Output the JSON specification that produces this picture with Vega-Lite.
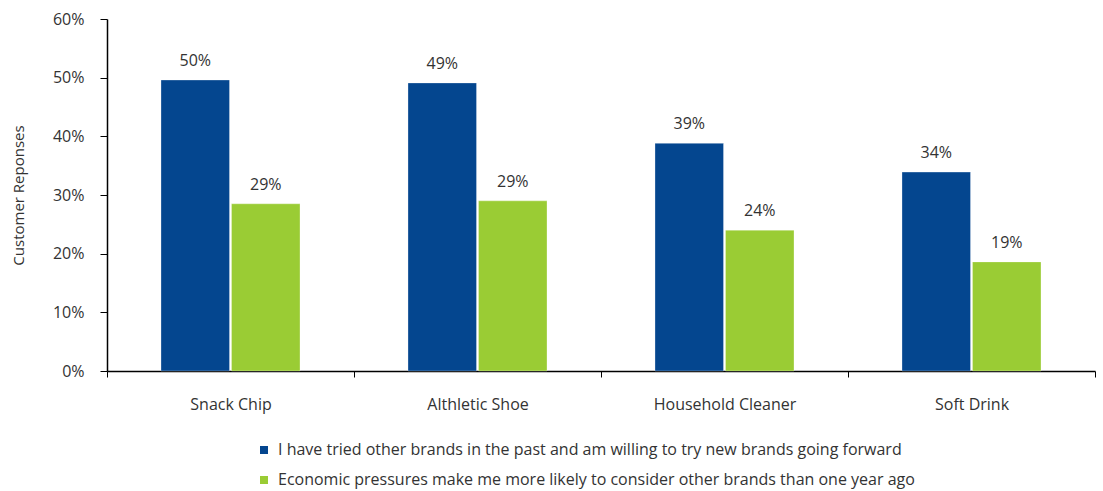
{
  "$schema": "https://vega.github.io/schema/vega-lite/v6.json",
  "width": 988,
  "height": 352,
  "autosize": {"type": "none"},
  "padding": {"left": 107, "top": 19, "right": 8, "bottom": 120},
  "config": {
    "font": "Open Sans",
    "view": {"stroke": null},
    "axis": {"labelFont": "Open Sans", "titleFont": "Open Sans", "labelColor": "#333333", "titleColor": "#333333", "domainColor": "#000000", "tickColor": "#000000", "grid": false}
  },
  "data": {
    "values": [
      {"category": "Snack Chip", "series": "I have tried other brands in the past and am willing to try new brands going forward", "value": 0.496, "label": "50%"},
      {"category": "Snack Chip", "series": "Economic pressures make me more likely to consider other brands than one year ago", "value": 0.285, "label": "29%"},
      {"category": "Althletic Shoe", "series": "I have tried other brands in the past and am willing to try new brands going forward", "value": 0.491, "label": "49%"},
      {"category": "Althletic Shoe", "series": "Economic pressures make me more likely to consider other brands than one year ago", "value": 0.29, "label": "29%"},
      {"category": "Household Cleaner", "series": "I have tried other brands in the past and am willing to try new brands going forward", "value": 0.388, "label": "39%"},
      {"category": "Household Cleaner", "series": "Economic pressures make me more likely to consider other brands than one year ago", "value": 0.24, "label": "24%"},
      {"category": "Soft Drink", "series": "I have tried other brands in the past and am willing to try new brands going forward", "value": 0.339, "label": "34%"},
      {"category": "Soft Drink", "series": "Economic pressures make me more likely to consider other brands than one year ago", "value": 0.186, "label": "19%"}
    ]
  },
  "encoding": {
    "x": {
      "field": "category", "type": "nominal", "sort": null,
      "scale": {"paddingInner": 0, "paddingOuter": 0},
      "axis": {"title": null, "labelAngle": 0, "labelFontSize": 16, "labelPadding": 19, "tickBand": "extent", "tickSize": 6, "domainWidth": 1.5}
    },
    "xOffset": {
      "field": "series", "type": "nominal", "sort": null,
      "scale": {"paddingInner": 0.028, "paddingOuter": 0.766}
    },
    "y": {
      "field": "value", "type": "quantitative",
      "scale": {"domain": [0, 0.6], "nice": false},
      "axis": {"title": "Customer Reponses", "format": ".0%", "values": [0, 0.1, 0.2, 0.3, 0.4, 0.5, 0.6], "labelOverlap": false, "labelFontSize": 16, "labelPadding": 16, "tickSize": 7, "titleFontSize": 15, "titleFontWeight": "normal", "titlePadding": 26, "domainWidth": 1.5}
    }
  },
  "layer": [
    {
      "mark": {"type": "bar", "stroke": "#ffffff", "strokeWidth": 0.5, "strokeOpacity": 0.6},
      "encoding": {
        "color": {
          "field": "series", "type": "nominal", "sort": null,
          "scale": {"range": ["#04468f", "#9acc34"]},
          "legend": {
            "title": null, "orient": "none", "legendX": 149, "legendY": 423, "direction": "vertical",
            "symbolType": "square", "symbolSize": 64, "labelFontSize": 16, "labelColor": "#333333", "labelFont": "Open Sans", "labelOffset": 6, "rowPadding": 14, "labelLimit": 900, "symbolStrokeWidth": 0
          }
        }
      }
    },
    {
      "mark": {"type": "text", "baseline": "alphabetic", "dy": -14, "fontSize": 16, "color": "#333333"},
      "encoding": {"text": {"field": "label"}}
    }
  ]
}
